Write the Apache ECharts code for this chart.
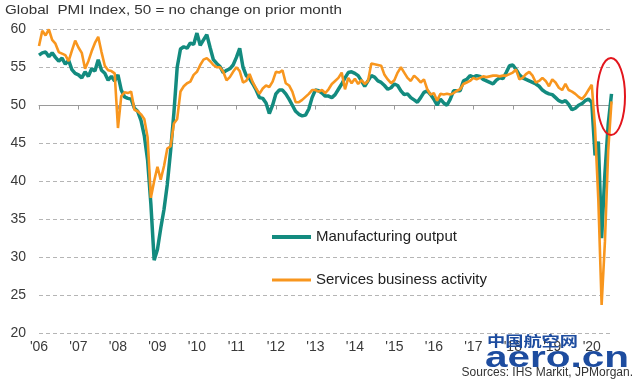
<!DOCTYPE html>
<html>
<head>
<meta charset="utf-8">
<script src="https://cdn.jsdelivr.net/npm/echarts/dist/echarts.min.js"></script>
<style>
html,body{margin:0;padding:0;background:#ffffff;}
#chart{width:640px;height:381px;}
</style>
</head>
<body>
<div id="chart"></div>
<script>
// ---- data ----
const titleText = 'Global  PMI Index, 50 = no change on prior month';
const sourceText = 'Sources: IHS Markit, JPMorgan.';
const seriesNames = ['Manufacturing output', 'Services business activity'];
const yearTickLabels = ["'06","'07","'08","'09","'10","'11","'12","'13","'14","'15","'16","'17","'18","'19","'20"];
const firstYear = 2006;
const monthCount = 175; // Jan 2006 .. Jul 2020
const categories = [];
for (let i = 0; i < monthCount; i++) {
  const y = firstYear + Math.floor(i / 12);
  const m = (i % 12) + 1;
  categories.push(y + '-' + (m < 10 ? '0' : '') + m);
}
const yMin = 20, yMax = 60, yStep = 5;

const mfgOutput = [
  56.6, 56.9, 57.0, 56.4, 56.9, 56.3, 55.8, 56.2, 55.4, 55.9, 54.7, 54.2,
  54.0, 53.6, 54.4, 53.8, 54.8, 54.5, 56.0, 54.6, 54.2, 53.3, 53.8, 53.2,
  54.0, 52.0, 51.1, 50.9, 50.8, 49.6, 49.2, 48.0, 46.0, 42.8, 37.0, 29.6,
  31.0, 33.8, 36.3, 39.6, 44.0, 49.0, 55.0, 57.4, 57.7, 57.5, 58.2, 58.0,
  59.5, 57.9, 58.6, 59.3, 57.6, 56.0, 55.5, 55.1, 54.3, 54.6, 54.8, 55.3,
  56.3, 57.5, 55.0, 53.9, 53.5, 52.8, 52.0, 51.0, 50.9, 50.3, 48.9, 50.0,
  51.5, 52.0, 52.0, 51.5, 50.8, 50.0, 49.2, 48.8, 48.6, 48.7, 49.5, 51.0,
  52.0, 51.9, 51.6, 51.2, 51.2, 51.0, 51.4, 52.1, 52.8, 53.6, 54.3, 54.4,
  54.2, 53.9, 53.2, 52.5, 53.2, 53.9, 53.7, 53.2, 53.0, 52.6, 52.1, 52.3,
  52.8, 52.6, 51.9, 51.4, 51.5, 51.0, 50.7, 50.4, 51.0, 51.7, 51.9, 51.4,
  50.8, 50.0, 50.8, 50.3, 50.0, 50.8, 51.9, 51.9, 51.9, 53.2, 53.4, 53.9,
  53.7, 53.9, 53.8, 53.4, 53.2, 53.0, 52.8, 53.3, 53.6, 53.5, 54.3, 55.2,
  55.3, 54.7, 54.0, 53.6, 53.4, 53.2, 53.0, 52.8, 52.5, 52.0, 51.7, 51.5,
  51.4, 51.0, 50.6, 50.4, 50.6, 50.1, 49.4, 49.6, 50.0, 50.2, 50.6, 50.8,
  50.4, 43.4, 45.2, 32.5, 41.0, 47.5, 51.5
];

const servicesActivity = [
  57.8, 59.8, 59.2, 60.0, 58.6, 58.1, 57.0, 56.8, 56.6, 55.8, 57.2, 58.5,
  57.6, 56.9, 54.8, 55.8, 57.1, 58.2, 59.0, 57.0, 55.2, 54.6, 54.5, 54.2,
  47.0, 51.2, 51.7, 51.6, 51.8, 49.4, 49.2, 48.8, 48.2, 45.8, 37.8, 40.0,
  41.9, 40.2, 42.0, 44.3, 44.6, 47.6, 48.2, 51.8, 52.5, 52.9, 53.1, 54.0,
  54.4, 55.3, 56.0, 56.2, 55.8, 55.3, 55.0, 55.0, 54.4, 53.3, 53.7, 54.4,
  55.0, 54.5, 53.0, 53.2, 54.1, 53.0, 52.2, 51.5, 52.2, 52.6, 52.4, 53.1,
  54.4, 54.3, 54.6, 52.9, 52.6, 51.8, 50.4, 50.4, 50.7, 51.1, 51.5, 52.0,
  52.0, 51.8, 52.0, 51.6, 52.1, 52.8, 53.2, 53.6, 54.3, 52.1, 53.6, 52.9,
  53.5, 52.8, 53.3, 52.8, 53.2, 55.5, 55.4, 55.3, 55.2, 54.0, 53.4, 52.9,
  53.3, 54.3, 55.0, 54.3, 53.6, 53.2, 53.9, 53.5, 53.0, 53.4, 52.1, 51.4,
  51.6, 50.6, 51.5, 51.4, 51.5, 51.4, 51.6, 51.9, 52.1, 52.8, 53.0, 53.2,
  53.6, 53.4, 53.6, 53.8, 53.7, 53.8, 53.9, 53.9, 53.8, 53.9, 53.9, 54.1,
  54.3, 54.7, 53.4, 53.6, 54.1, 54.4, 53.9, 53.0, 53.2, 53.6, 53.2, 52.5,
  53.4, 53.0, 52.3, 52.0, 52.8, 52.0, 51.8, 51.5, 51.1, 50.8, 51.3, 52.0,
  52.7, 47.0, 37.5, 23.7, 32.0, 44.0, 50.5
];

// ---- chart ----
const tealColor = '#138b7f';
const orangeColor = '#f8961e';
const font = 'Liberation Sans, Arial, sans-serif';
const isJan = (idx) => idx % 12 === 0;

const chart = echarts.init(document.getElementById('chart'), null, {renderer: 'canvas'});
chart.setOption({
  animation: false,
  backgroundColor: '#ffffff',
  grid: {left: 39, right: 28.5, top: 29.3, bottom: 48},
  xAxis: [
    {
      type: 'category', data: categories, boundaryGap: false, position: 'bottom',
      axisLine: {show: false}, axisTick: {show: false}, splitLine: {show: false},
      axisLabel: {
        interval: (idx) => isJan(idx),
        formatter: (v) => yearTickLabels[parseInt(v, 10) - firstYear],
        fontSize: 14, fontFamily: font, color: '#3a3a3a', margin: 7
      }
    },
    {
      type: 'category', data: categories, boundaryGap: false, position: 'bottom',
      offset: -227.5,
      axisLine: {show: true, lineStyle: {color: '#9a9a9a', width: 1}},
      axisTick: {show: true, interval: (idx) => isJan(idx), length: 4, lineStyle: {color: '#9a9a9a'}},
      axisLabel: {show: false}, splitLine: {show: false}
    }
  ],
  yAxis: {
    type: 'value', min: yMin, max: yMax, interval: yStep,
    axisLine: {show: false}, axisTick: {show: false},
    axisLabel: {fontSize: 14, fontFamily: font, color: '#3a3a3a', margin: 13},
    splitLine: {show: true, lineStyle: {color: '#b5b5b5', width: 1, type: [4, 3]}}
  },
  legend: [
    {
      data: [seriesNames[0]], left: 272, top: 228, orient: 'vertical',
      icon: 'rect', itemWidth: 39, itemHeight: 4, padding: 0, selectedMode: false,
      textStyle: {fontSize: 15, fontFamily: font, color: '#222', lineHeight: 18}
    },
    {
      data: [seriesNames[1]], left: 272, top: 271, orient: 'vertical',
      icon: 'rect', itemWidth: 39, itemHeight: 3, padding: 0, selectedMode: false,
      textStyle: {fontSize: 15, fontFamily: font, color: '#222', lineHeight: 18}
    }
  ],
  series: [
    {
      name: seriesNames[0], type: 'line', data: mfgOutput, symbol: 'none',
      lineStyle: {color: tealColor, width: 3.5}, itemStyle: {color: tealColor}, z: 2
    },
    {
      name: seriesNames[1], type: 'line', data: servicesActivity, symbol: 'none',
      lineStyle: {color: orangeColor, width: 2.6}, itemStyle: {color: orangeColor}, z: 3
    }
  ],
  graphic: [
    {
      type: 'text', x: 5, y: 10, scaleX: 1.17, z: 10,
      style: {text: titleText, fontSize: 13, fontFamily: font, fill: '#333', verticalAlign: 'middle'}
    },
    {
      type: 'ellipse', z: 10,
      shape: {cx: 611, cy: 96.5, rx: 14, ry: 38.5},
      style: {fill: 'none', stroke: '#e3161d', lineWidth: 2}
    },
    {
      type: 'text', x: 633, y: 373, z: 10,
      style: {text: sourceText, fontSize: 12, fontFamily: font, fill: '#333', align: 'right', verticalAlign: 'middle'}
    },
    {
      type: 'text', x: 487, y: 341, scaleX: 1.3, z: 11,
      style: {text: '中国航空网', fontSize: 14, fontWeight: 'bold', fontFamily: 'Noto Sans CJK SC', fill: '#1d4c9f', verticalAlign: 'middle'}
    },
    {
      type: 'text', x: 485, y: 359, scaleX: 1.35, z: 11,
      style: {text: 'aero.cn', fontSize: 30, fontWeight: 'bold', fontFamily: font, fill: '#1d4c9f', verticalAlign: 'middle'}
    }
  ]
});
</script>
</body>
</html>
